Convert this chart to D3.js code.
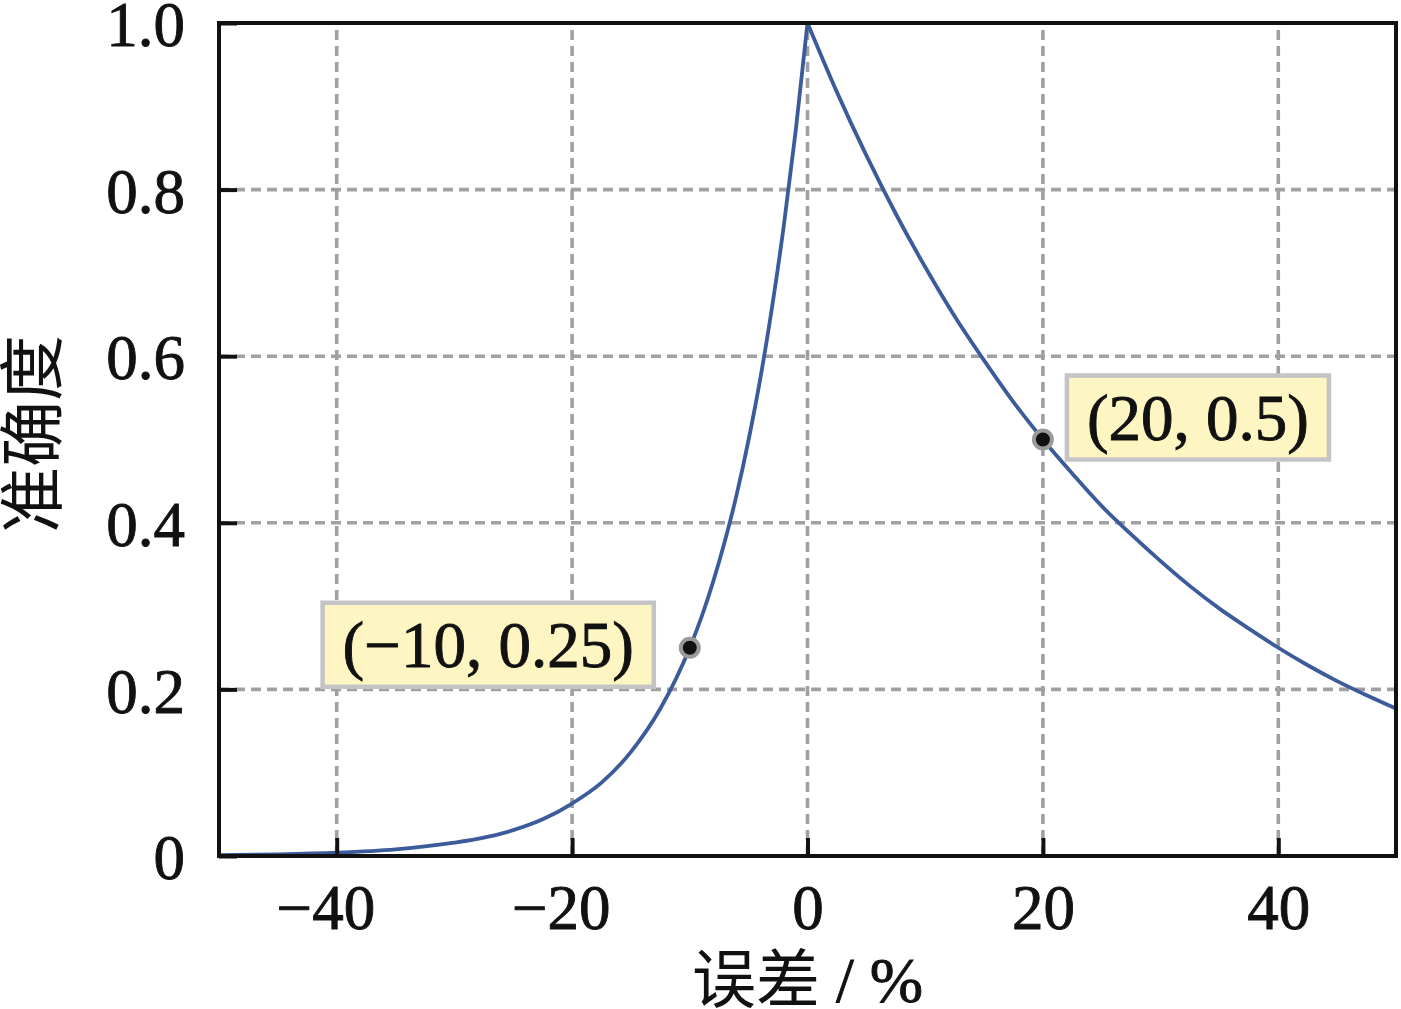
<!DOCTYPE html>
<html>
<head>
  <meta charset="utf-8">
  <title>准确度 vs 误差</title>
  <script src="https://d3js.org/d3.v7.min.js"></script>
  <style>
    body { margin: 0; background: #fff; }
    svg text { font-family: "Liberation Serif", "Times New Roman", serif; fill: #111; }
    .cjk { font-family: "Noto Sans CJK SC", "Noto Sans", sans-serif; }
  </style>
</head>
<body>
  <div id="chart"></div>

  <script>
    // curve values (error %, accuracy)
    const leftX = [-50, -45, -40, -35, -30, -27.5, -25, -22.5, -20, -17.5, -15, -12.5, -10, -9, -8, -7, -6, -5, -4, -3, -2, -1, 0];
    const leftY = [0.001, 0.002, 0.004, 0.008, 0.016, 0.022, 0.031, 0.044, 0.063, 0.088, 0.125, 0.177, 0.25, 0.287, 0.330, 0.379, 0.435, 0.5, 0.574, 0.660, 0.758, 0.871, 1.0];
    const rightX = [0, 2.5, 5, 7.5, 10, 12.5, 15, 17.5, 20, 22.5, 25, 27.5, 30, 32.5, 35, 37.5, 40, 42.5, 45, 47.5, 50];
    const rightY = [1.0, 0.917, 0.841, 0.771, 0.707, 0.648, 0.595, 0.545, 0.5, 0.459, 0.420, 0.386, 0.354, 0.324, 0.297, 0.273, 0.25, 0.229, 0.210, 0.193, 0.177];

    // marked points and their labels
    const markX = [-10, 20];
    const markY = [0.25, 0.5];
    const markLabels = ['(\u221210, 0.25)', '(20, 0.5)'];

    // ticks
    const xTicks = [-40, -20, 0, 20, 40];
    const yTicks = [0, 0.2, 0.4, 0.6, 0.8, 1.0];
    const yTickLabels = ['0', '0.2', '0.4', '0.6', '0.8', '1.0'];

    const width = 1401, height = 1009;
    const margin = { left: 219, right: 5, top: 23, bottom: 153 };

    const svg = d3.select('#chart')
      .append('svg')
      .attr('width', width)
      .attr('height', height);

    const x = d3.scaleLinear()
      .domain([-50, 50])
      .range([margin.left, width - margin.right]);

    const y = d3.scaleLinear()
      .domain([0, 1])
      .range([height - margin.bottom, margin.top]);

    // dashed grid
    svg.append('g')
      .selectAll('line')
      .data(xTicks)
      .join('line')
      .attr('x1', d => x(d)).attr('x2', d => x(d))
      .attr('y1', y(0)).attr('y2', y(1))
      .attr('stroke', '#a0a0a0')
      .attr('stroke-width', 3.6)
      .attr('stroke-dasharray', '10,6');

    svg.append('g')
      .selectAll('line')
      .data(yTicks.slice(1, -1))
      .join('line')
      .attr('x1', x(-50)).attr('x2', x(50))
      .attr('y1', d => y(d)).attr('y2', d => y(d))
      .attr('stroke', '#a0a0a0')
      .attr('stroke-width', 3.6)
      .attr('stroke-dasharray', '10,6');

    // curve, drawn as two halves so the peak stays sharp
    const line = d3.line()
      .x(d => x(d[0]))
      .y(d => y(d[1]))
      .curve(d3.curveMonotoneX);

    const halves = [d3.zip(leftX, leftY), d3.zip(rightX, rightY)];
    svg.append('g')
      .selectAll('path')
      .data(halves)
      .join('path')
      .attr('d', line)
      .attr('fill', 'none')
      .attr('stroke', '#3b5b9a')
      .attr('stroke-width', 3.8);

    // axes with inward ticks
    const xAxis = svg.append('g')
      .attr('transform', `translate(0, ${y(0)})`)
      .call(d3.axisBottom(x).tickValues(xTicks).tickSize(-18).tickPadding(28)
        .tickFormat(d => d < 0 ? '\u2212' + Math.abs(d) : d));

    const yAxis = svg.append('g')
      .attr('transform', `translate(${x(-50)}, 0)`)
      .call(d3.axisLeft(y).tickValues(yTicks).tickSize(-18).tickPadding(34)
        .tickFormat((d, i) => yTickLabels[i]));

    [xAxis, yAxis].forEach(g => {
      g.select('.domain').remove();
      g.selectAll('.tick line').attr('stroke', '#111').attr('stroke-width', 4);
      g.selectAll('.tick text')
        .style('font-family', '"Liberation Serif", "Times New Roman", serif')
        .style('font-size', '63px')
        .attr('fill', '#111')
        .attr('stroke', '#111')
        .attr('stroke-width', 0.9);
    });
    yAxis.selectAll('.tick text').attr('dy', '0.36em');
    xAxis.selectAll('.tick text').attr('dx', d => d < 0 ? '-0.18em' : 0);

    // frame
    svg.append('rect')
      .attr('x', x(-50)).attr('y', y(1))
      .attr('width', x(50) - x(-50))
      .attr('height', y(0) - y(1))
      .attr('fill', 'none')
      .attr('stroke', '#111')
      .attr('stroke-width', 4);

    // annotation boxes
    const boxOffset = [-36, 24];
    markX.forEach((mx, i) => {
      const px = x(mx), py = y(markY[i]);
      const g = svg.append('g');
      const rect = g.append('rect')
        .attr('fill', '#fdf6c3')
        .attr('stroke', '#c4c4c4')
        .attr('stroke-width', 4.5);
      const t = g.append('text')
        .text(markLabels[i])
        .style('font-size', '65px')
        .attr('stroke', '#111')
        .attr('stroke-width', 0.9)
        .attr('text-anchor', 'middle');
      const bw = t.node().getComputedTextLength() + 40;
      const bh = 84;
      const left = boxOffset[i] < 0 ? px + boxOffset[i] - bw : px + boxOffset[i];
      const cy = i === 0 ? py - 3 : py - 22;
      rect.attr('x', left).attr('y', cy - bh / 2).attr('width', bw).attr('height', bh);
      t.attr('x', left + bw / 2).attr('y', cy).attr('dy', '0.34em');

      svg.append('circle')
        .attr('cx', px).attr('cy', py)
        .attr('r', 9)
        .attr('fill', '#111')
        .attr('stroke', '#9a9a9a')
        .attr('stroke-width', 4);
    });

    // axis titles
    const xt = svg.append('text')
      .attr('x', x(0))
      .attr('y', 1002)
      .attr('text-anchor', 'middle')
      .style('font-size', '64px');
    xt.append('tspan').attr('class', 'cjk').text('误差');
    xt.append('tspan').attr('stroke', '#111').attr('stroke-width', 0.9).text(' / %');

    svg.append('text')
      .attr('class', 'cjk')
      .attr('transform', `translate(56, 434) rotate(-90)`)
      .attr('text-anchor', 'middle')
      .style('font-size', '66px')
      .text('准确度');
  </script>
</body>
</html>
